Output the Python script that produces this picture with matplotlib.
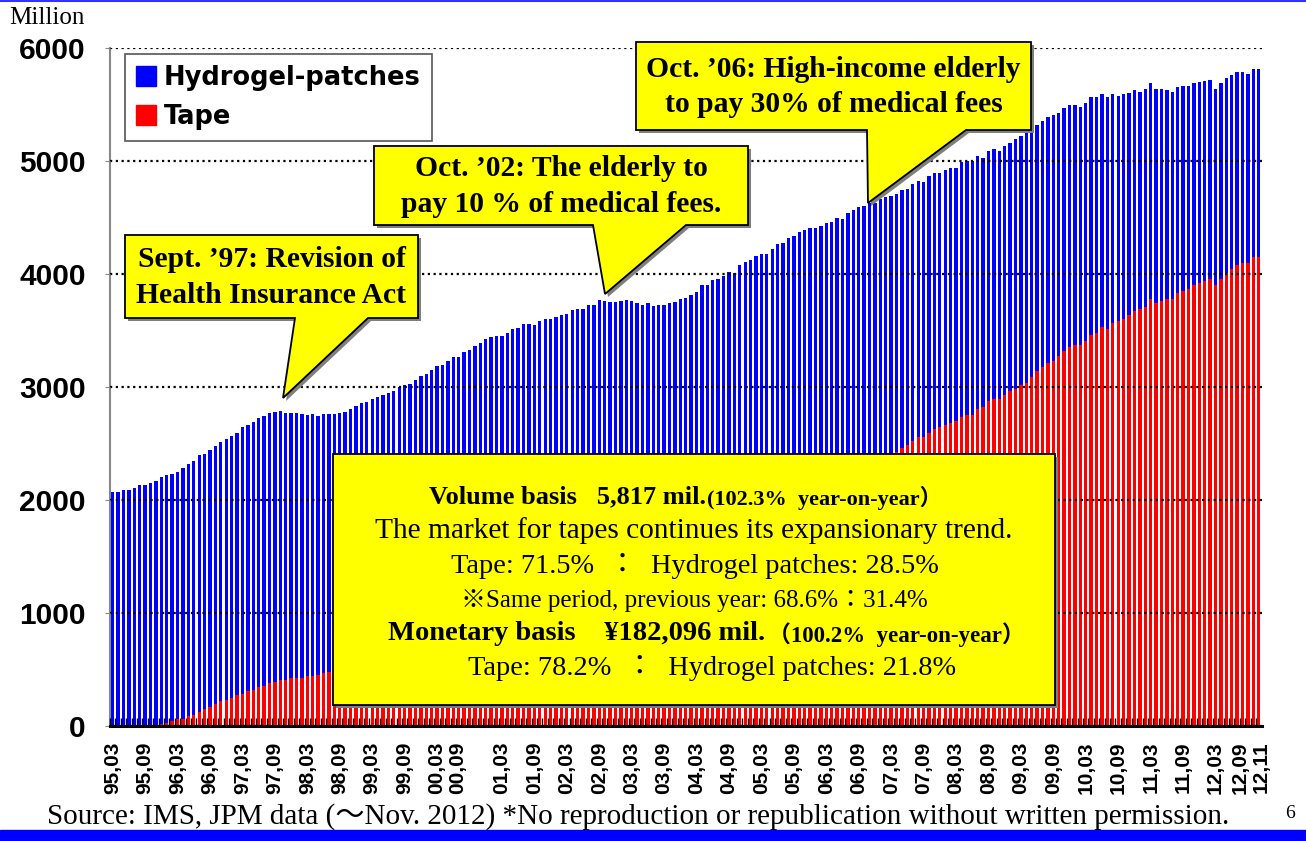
import matplotlib
matplotlib.use("Agg")
import matplotlib.pyplot as plt
from matplotlib.patches import Polygon, Patch
import numpy as np

# monthly totals (million), 95/03 .. 12/11
total = [
    2070, 2070, 2090, 2090, 2110, 2130, 2130, 2150, 2170, 2200,
    2220, 2230, 2250, 2280, 2320, 2345, 2400, 2405, 2445, 2475,
    2515, 2540, 2565, 2590, 2645, 2665, 2690, 2725, 2745, 2770,
    2780, 2790, 2770, 2770, 2770, 2765, 2755, 2765, 2745, 2765,
    2765, 2757, 2766, 2775, 2808, 2834, 2861, 2870, 2894, 2914,
    2932, 2950, 2961, 3000, 3017, 3029, 3065, 3100, 3118, 3153,
    3189, 3197, 3233, 3262, 3268, 3313, 3330, 3366, 3389, 3428,
    3442, 3454, 3454, 3478, 3513, 3525, 3558, 3558, 3549, 3587,
    3602, 3602, 3623, 3637, 3649, 3682, 3693, 3693, 3729, 3729,
    3773, 3764, 3755, 3755, 3764, 3773, 3764, 3744, 3729, 3744,
    3720, 3729, 3729, 3744, 3755, 3782, 3791, 3817, 3844, 3903,
    3903, 3944, 3956, 3986, 4018, 4009, 4080, 4106, 4127, 4157,
    4181, 4181, 4222, 4269, 4278, 4319, 4334, 4373, 4393, 4411,
    4411, 4429, 4452, 4461, 4500, 4491, 4541, 4562, 4594, 4606,
    4624, 4630, 4665, 4677, 4694, 4709, 4742, 4748, 4798, 4827,
    4818, 4869, 4898, 4898, 4922, 4942, 4942, 4987, 4998, 5001,
    5043, 5028, 5090, 5102, 5090, 5137, 5161, 5197, 5220, 5250,
    5276, 5322, 5350, 5385, 5409, 5421, 5465, 5492, 5492, 5474,
    5509, 5562, 5562, 5589, 5562, 5589, 5571, 5589, 5598, 5624,
    5615, 5633, 5686, 5633, 5633, 5624, 5615, 5651, 5660, 5660,
    5686, 5695, 5704, 5713, 5633, 5686, 5731, 5757, 5784, 5784,
    5766, 5810, 5817]

# tape part (hidden behind the text box in the middle -> estimated)
tape = [
    0, 0, 0, 0, 0, 0, 0, 0, 0, 18,
    27, 44, 59, 65, 89, 97, 127, 151, 168, 198,
    221, 233, 251, 272, 286, 310, 322, 345, 357, 381,
    392, 407, 407, 425, 425, 425, 446, 446, 452, 469,
    481, 494, 505, 521, 534, 546, 561, 575, 588, 603,
    617, 630, 645, 660, 672, 689, 704, 716, 733, 748,
    763, 776, 794, 809, 822, 840, 856, 870, 888, 904,
    920, 934, 952, 969, 983, 1002, 1019, 1034, 1053, 1070,
    1087, 1102, 1122, 1139, 1155, 1175, 1193, 1209, 1229, 1247,
    1265, 1281, 1302, 1320, 1337, 1358, 1377, 1394, 1415, 1434,
    1453, 1470, 1492, 1512, 1529, 1551, 1571, 1589, 1611, 1632,
    1652, 1671, 1693, 1714, 1732, 1755, 1776, 1795, 1818, 1840,
    1861, 1881, 1904, 1926, 1946, 1970, 1992, 2012, 2036, 2059,
    2081, 2102, 2126, 2149, 2170, 2195, 2218, 2239, 2264, 2288,
    2311, 2333, 2359, 2383, 2415, 2427, 2462, 2489, 2518, 2554,
    2560, 2595, 2625, 2642, 2666, 2684, 2695, 2737, 2749, 2755,
    2808, 2819, 2872, 2890, 2896, 2926, 2967, 2985, 3014, 3038,
    3085, 3138, 3173, 3209, 3233, 3274, 3315, 3357, 3368, 3375,
    3410, 3463, 3481, 3528, 3516, 3570, 3581, 3605, 3634, 3670,
    3687, 3705, 3782, 3747, 3764, 3776, 3782, 3829, 3847, 3865,
    3900, 3924, 3935, 3953, 3906, 3959, 4006, 4042, 4083, 4095,
    4101, 4148, 4154]

hydrogel = [t - p for t, p in zip(total, tape)]

tick_labels = ["95,03", "95,09", "96,03", "96,09", "97,03", "97,09", "98,03",
               "98,09", "99,03", "99,09", "00,03", "00,09", "01,03", "01,09",
               "02,03", "02,09", "03,03", "03,09", "04,03", "04,09", "05,03",
               "05,09", "06,03", "06,09", "07,03", "07,09", "08,03", "08,09",
               "09,03", "09,09", "10,03", "10,09", "11,03", "11,09", "12,03",
               "12,09", "12,11"]
tick_pos = [0, 6, 12, 18, 24, 30, 36, 42, 48, 54, 60, 63.8, 72, 78, 84, 90,
            96, 102, 108, 114, 120, 126, 132, 138, 144, 150, 156, 162, 168,
            174, 180, 186, 192, 198, 204, 208.6, 212.5]

W, H = 1306, 841
SERIF = ['Liberation Serif', 'Noto Sans CJK JP']
SANS = 'Liberation Sans'

fig = plt.figure(figsize=(W / 100, H / 100), dpi=100)
ax = fig.add_axes([110 / W, 1 - 726 / H, 1152 / W, 678 / H])

x = np.arange(len(total))
ax.bar(x, tape, width=0.62, color='#ff0000', zorder=2)
ax.bar(x, hydrogel, bottom=tape, width=0.62, color='#0000ff', zorder=2)
ax.set_xlim(-0.45, 212.6)
ax.set_ylim(0, 6000)

ax.set_yticks(range(0, 7000, 1000))
ax.yaxis.grid(True, color='black', lw=1.6, ls=(0, (1, 1.6)))
ax.set_axisbelow(False)
for lab in ax.get_yticklabels():
    lab.set_fontfamily(SANS)
    lab.set_fontweight('bold')
    lab.set_fontsize(21.5)
ax.tick_params(axis='y', length=3.5, color='#888888', pad=14)

ax.set_xticks(tick_pos, tick_labels, rotation=90, fontsize=15,
              fontweight='bold', family=SANS, va='top')
ax.set_xticks(np.arange(-0.5, 213, 1), minor=True)
ax.tick_params(axis='x', which='major', length=0, pad=11)
ax.tick_params(axis='x', which='minor', direction='in', length=6, width=1,
               color='black')

for s in ['top', 'right']:
    ax.spines[s].set_visible(False)
ax.spines['left'].set_color('#888888')
ax.spines['left'].set_linewidth(1.5)
ax.spines['bottom'].set_linewidth(2.2)
ax.spines['bottom'].set_zorder(4)

leg = ax.legend(handles=[Patch(color='#0000ff', label='Hydrogel-patches'),
                         Patch(color='#ff0000', label='Tape')],
                loc='upper left', bbox_to_anchor=(0.013, 0.991),
                borderaxespad=0, fancybox=False, framealpha=1,
                edgecolor='#555555', handlelength=0.8, handleheight=0.8,
                handletextpad=0.3, borderpad=0.42, labelspacing=0.5,
                prop={'family': 'DejaVu Sans', 'weight': 'bold', 'size': 18.5})
leg.get_frame().set_linewidth(1.2)
leg.set_zorder(6)


def fpt(a, b):
    return (a / W, 1 - b / H)


def box(pts, z):
    shadow = [fpt(a + 3, b + 3) for a, b in pts]
    fig.add_artist(Polygon(shadow, closed=True, transform=fig.transFigure,
                           fc='#7f7f7f', ec='none', zorder=z))
    fig.add_artist(Polygon([fpt(a, b) for a, b in pts], closed=True,
                           transform=fig.transFigure, fc='#ffff00',
                           ec='black', lw=1.3, zorder=z + 1))


def callout(x0, y0, x1, y1, wl, wr, tip, text):
    box([(x0, y0), (x1, y0), (x1, y1), (wr, y1), tip, (wl, y1), (x0, y1)], 7)
    fig.text(*fpt((x0 + x1) / 2, (y0 + y1) / 2 + 1), text, ha='center',
             va='center', family=SERIF, weight='bold', fontsize=21.3,
             linespacing=1.4, zorder=9)


callout(125, 235, 418, 318, 295, 368, (283, 398),
        "Sept. \u201997: Revision of\nHealth Insurance Act")
callout(374, 146, 748, 225, 593, 686, (605, 294),
        "Oct. \u201902: The elderly to\npay 10 % of medical fees.")
callout(636, 42, 1031, 130, 867, 966, (868, 203),
        "Oct. \u201906: High-income elderly\nto pay 30% of medical fees")

# summary box
box([(333, 454), (1055, 454), (1055, 705), (333, 705)], 7)
fig.text(*fpt(706, 497), "Volume basis   5,817 mil.", ha='right', va='center',
         family=SERIF, weight='bold', fontsize=19, zorder=9)
fig.text(*fpt(707, 498), "(102.3%  year-on-year\uff09", ha='left', va='center',
         family=SERIF, weight='bold', fontsize=16, zorder=9)
fig.text(*fpt(694, 531), "The market for tapes continues its expansionary trend.",
         ha='center', va='center', family=SERIF, fontsize=21.2, zorder=9)
fig.text(*fpt(695, 566), "Tape: 71.5%  \uff1a  Hydrogel patches: 28.5%",
         ha='center', va='center', family=SERIF, fontsize=20.4, zorder=9)
fig.text(*fpt(694, 600), "\u203bSame period, previous year: 68.6%\uff1a31.4%",
         ha='center', va='center', family=SERIF, fontsize=18, zorder=9)
fig.text(*fpt(765, 634), "Monetary basis    \u00a5182,096 mil.", ha='right',
         va='center', family=SERIF, weight='bold', fontsize=20.5, zorder=9)
fig.text(*fpt(768, 635), "\uff08100.2%  year-on-year\uff09", ha='left',
         va='center', family=SERIF, weight='bold', fontsize=16.5, zorder=9)
fig.text(*fpt(712, 668), "Tape: 78.2%  \uff1a  Hydrogel patches: 21.8%",
         ha='center', va='center', family=SERIF, fontsize=20.4, zorder=9)

fig.text(*fpt(9, 18), "Million", ha='left', va='center', family=SERIF,
         fontsize=18)
fig.text(*fpt(638, 817), "Source: IMS, JPM data (\uff5eNov. 2012) *No reproduction "
         "or republication without written permission.", ha='center',
         va='center', family=SERIF, fontsize=21)
fig.text(*fpt(1290, 814), "6", ha='center', va='center', family=SERIF,
         fontsize=14)

# page rules
fig.add_artist(plt.Line2D([0, 1], [1 - 0.5 / H] * 2, color='#3333ff', lw=1.5,
                          transform=fig.transFigure))
fig.add_artist(plt.Rectangle((0, 0), 1, 11 / H, color='#0000ff',
                             transform=fig.transFigure))

fig.savefig('out.png', dpi=100)
